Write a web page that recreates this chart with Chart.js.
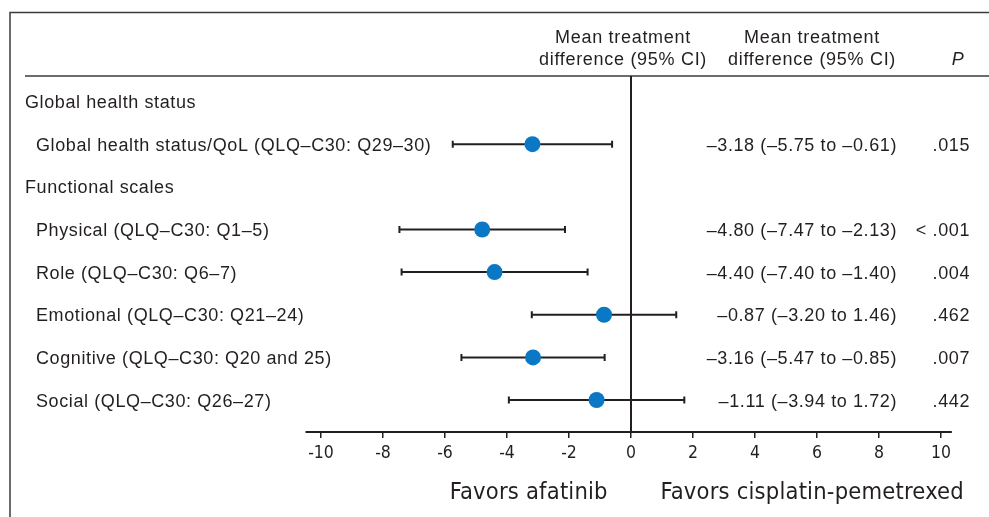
<!DOCTYPE html>
<html>
<head>
<meta charset="utf-8">
<script src="https://cdn.jsdelivr.net/npm/chart.js@4.4.1/dist/chart.umd.min.js"></script>
<style>
  html, body { margin: 0; padding: 0; background: #fff; }
  #wrap { width: 989px; height: 517px; }
</style>
</head>
<body>
<div id="wrap"><canvas id="forestChart" width="989" height="517"></canvas></div>
<script>
// rows, top to bottom (headers have no estimate)
const rowLabels = [
  'Global health status',
  'Global health status/QoL (QLQ–C30: Q29–30)',
  'Functional scales',
  'Physical (QLQ–C30: Q1–5)',
  'Role (QLQ–C30: Q6–7)',
  'Emotional (QLQ–C30: Q21–24)',
  'Cognitive (QLQ–C30: Q20 and 25)',
  'Social (QLQ–C30: Q26–27)'
];
const isHeader = [true, false, true, false, false, false, false, false];
const means = [null, -3.18, null, -4.80, -4.40, -0.87, -3.16, -1.11];
const lower = [null, -5.75, null, -7.47, -7.40, -3.20, -5.47, -3.94];
const upper = [null, -0.61, null, -2.13, -1.40, 1.46, -0.85, 1.72];
const pValues = [null, '.015', null, '< .001', '.004', '.462', '.007', '.442'];
const xTicks = [-10, -8, -6, -4, -2, 0, 2, 4, 6, 8, 10];
const favorLabels = ['Favors afatinib', 'Favors cisplatin-pemetrexed'];

const INK = '#231f20';
const SANS = '"Liberation Sans", Arial, sans-serif';
const NARROW = '"Liberation Sans Narrow", "DejaVu Sans Condensed", sans-serif';

const fmt = v => (v < 0 ? '–' : '') + Math.abs(v).toFixed(2);

const points = [];
means.forEach((m, i) => { if (m !== null) points.push({ x: m, y: i }); });

const forestPlugin = {
  id: 'forest',
  beforeDatasetsDraw(chart) {
    const { ctx, scales: { x, y }, chartArea } = chart;
    ctx.save();

    // frame (top + left) and header rule
    ctx.lineWidth = 1.5;
    ctx.strokeStyle = '#3a3a3a';
    ctx.beginPath();
    ctx.moveTo(10, chart.height);
    ctx.lineTo(10, 12.5);
    ctx.lineTo(chart.width, 12.5);
    ctx.stroke();
    ctx.beginPath();
    ctx.moveTo(25, chartArea.top);
    ctx.lineTo(chart.width, chartArea.top);
    ctx.stroke();

    // axis line and zero line
    ctx.strokeStyle = INK;
    ctx.lineWidth = 2;
    ctx.beginPath();
    ctx.moveTo(x.getPixelForValue(-10.5), chartArea.bottom);
    ctx.lineTo(x.getPixelForValue(10.35), chartArea.bottom);
    ctx.stroke();
    ctx.beginPath();
    ctx.moveTo(x.getPixelForValue(0), chartArea.top);
    ctx.lineTo(x.getPixelForValue(0), chartArea.bottom);
    ctx.stroke();

    // confidence intervals
    ctx.lineWidth = 2;
    means.forEach((m, i) => {
      if (m === null) return;
      const py = y.getPixelForValue(i);
      const x1 = x.getPixelForValue(lower[i]);
      const x2 = x.getPixelForValue(upper[i]);
      ctx.beginPath();
      ctx.moveTo(x1, py); ctx.lineTo(x2, py);
      ctx.moveTo(x1, py - 3.5); ctx.lineTo(x1, py + 3.5);
      ctx.moveTo(x2, py - 3.5); ctx.lineTo(x2, py + 3.5);
      ctx.stroke();
    });

    // row labels and table
    ctx.fillStyle = INK;
    ctx.font = '18px ' + SANS;
    ctx.letterSpacing = '0.6px';
    ctx.textBaseline = 'alphabetic';
    rowLabels.forEach((label, i) => {
      const py = y.getPixelForValue(i) + 6.5;
      ctx.textAlign = 'left';
      ctx.fillText(label, isHeader[i] ? 25 : 36, py);
      if (means[i] !== null) {
        ctx.textAlign = 'right';
        ctx.fillText(fmt(means[i]) + ' (' + fmt(lower[i]) + ' to ' + fmt(upper[i]) + ')', 897, py);
        ctx.fillText(pValues[i], 970, py);
      }
    });

    // column headers
    ctx.textAlign = 'center';
    ctx.letterSpacing = '0.7px';
    ctx.fillText('Mean treatment', 623, 43);
    ctx.fillText('difference (95% CI)', 623, 65);
    ctx.fillText('Mean treatment', 812, 43);
    ctx.fillText('difference (95% CI)', 812, 65);
    ctx.font = 'italic 18px ' + SANS;
    ctx.fillText('P', 958, 65);

    // favours labels
    ctx.font = '23.5px ' + NARROW;
    ctx.letterSpacing = '0.2px';
    ctx.textAlign = 'right';
    ctx.fillText(favorLabels[0], x.getPixelForValue(-0.75), 499);
    ctx.textAlign = 'left';
    ctx.fillText(favorLabels[1], x.getPixelForValue(0.95), 499);
    ctx.restore();
  }
};

new Chart(document.getElementById('forestChart'), {
  type: 'scatter',
  data: {
    datasets: [{
      data: points,
      backgroundColor: '#0a78c5',
      borderWidth: 0,
      pointRadius: 8,
      pointHoverRadius: 8
    }]
  },
  options: {
    responsive: false,
    animation: false,
    layout: { padding: { left: 321, right: 48, top: 76, bottom: 0 } },
    plugins: { legend: { display: false }, tooltip: { enabled: false } },
    scales: {
      x: {
        type: 'linear',
        min: -10,
        max: 10,
        afterBuildTicks: scale => { scale.ticks = xTicks.map(v => ({ value: v })); },
        afterFit: scale => { scale.height = 85; },
        border: { display: false },
        grid: { drawOnChartArea: false, drawTicks: true, tickLength: 6, color: INK, lineWidth: 1.5 },
        ticks: { color: INK, padding: 5, font: { family: NARROW, size: 17.5 }, callback: v => String(v) }
      },
      y: {
        type: 'linear',
        min: -0.6,
        max: 7.75,
        reverse: true,
        display: false
      }
    }
  },
  plugins: [forestPlugin]
});
</script>
</body>
</html>
